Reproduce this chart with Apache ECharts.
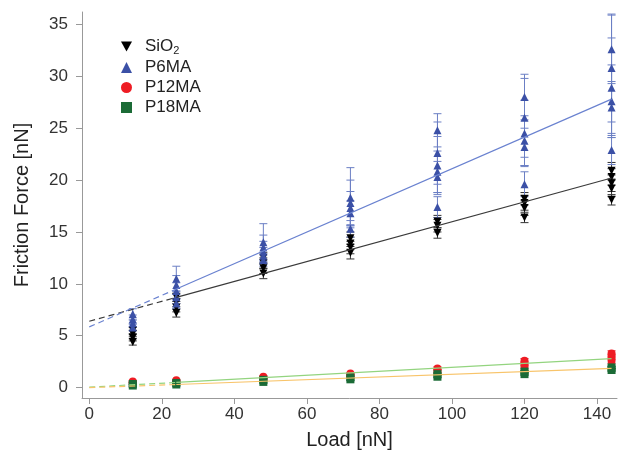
<!DOCTYPE html>
<html><head><meta charset="utf-8">
<script src="https://cdn.jsdelivr.net/npm/echarts@6/dist/echarts.min.js"></script>
<style>html,body{margin:0;padding:0;background:#fff}#c{width:620px;height:455px}</style>
</head><body><div id="c"></div>
<script>
const xTicks = [0, 20, 40, 60, 80, 100, 120, 140];
const yTicks = [0, 5, 10, 15, 20, 25, 30, 35];
const seriesNames = ['SiO2', 'P6MA', 'P12MA', 'P18MA'];

const sio2Load  = [12,12,12,12, 24,24,24,24, 48,48,48,48, 72,72,72,72, 96,96,96, 120,120,120,120, 144,144,144,144,144];
const sio2Force = [4.4,4.8,5.2,5.5, 7.2,7.7,8.2,8.7, 11.0,11.5,12.0,12.5, 13.0,13.5,13.9,14.4, 14.9,15.6,16.0, 16.4,17.3,17.8,18.2, 18.1,19.2,19.7,20.3,20.9];
const sio2Err   = [0.3,0.3,0.3,0.3, 0.4,0.4,0.4,0.4, 0.5,0.5,0.5,0.5, 0.6,0.6,0.6,0.6, 0.5,0.6,0.6, 0.5,0.7,0.7,0.6, 0.5,0.8,0.8,0.8,0.8];

const p6maLoad  = [12,12,12,12, 24,24,24,24,24, 48,48,48,48,48, 72,72,72,72,72, 96,96,96,96,96,96, 120,120,120,120,120,120, 144,144,144,144,144,144];
const p6maForce = [5.8,6.2,6.6,7.1, 8.1,8.7,9.3,9.9,10.5, 12.3,12.7,13.1,13.5,14.0, 15.3,16.8,17.3,17.8,18.3, 17.4,20.3,20.8,21.4,22.6,24.8, 19.6,23.2,23.8,24.5,26.0,28.0, 22.9,27.0,27.6,28.9,30.8,32.6];
const p6maErr   = [0.3,0.3,0.4,0.5, 0.5,0.6,0.8,0.9,1.2, 0.6,0.8,1.0,1.2,1.8, 0.8,1.2,1.6,2.2,2.9, 1.0,1.5,2.0,2.8,3.0,1.6, 1.2,1.8,2.4,3.2,3.8,2.2, 1.4,2.5,3.5,4.8,5.2,3.3];

const p12Load  = [12,12, 24,24, 48,48, 72,72, 96,96, 120,120,120, 144,144,144];
const p12Force = [0.45,0.6, 0.55,0.7, 0.9,1.05, 1.2,1.35, 1.6,1.85, 2.0,2.3,2.6, 2.6,2.95,3.3];
const p12Err   = [0.1,0.1, 0.1,0.1, 0.1,0.1, 0.1,0.1, 0.15,0.15, 0.2,0.2,0.2, 0.25,0.25,0.25];

const p18Load  = [12,12, 24,24, 48,48, 72,72, 96,96, 120,120, 144,144];
const p18Force = [0.2,0.35, 0.3,0.45, 0.55,0.75, 0.8,1.0, 1.05,1.3, 1.3,1.55, 1.7,1.95];
const p18Err   = [0.1,0.1, 0.1,0.1, 0.1,0.1, 0.1,0.1, 0.1,0.1, 0.1,0.1, 0.12,0.12];

const fitLoad  = [0, 24, 144];
const sio2Fit  = [6.4, 8.7, 20.2];
const p6maFit  = [5.85, 9.5, 27.8];
const p12Fit   = [0.05, 0.5, 2.8];
const p18Fit   = [0.0, 0.3, 1.85];

const FONT = '"Liberation Sans", Arial, Helvetica, sans-serif';
const DOWN_TRI = 'path://M0,0L10,0L5,9Z';

function pts(xs, ys) { return xs.map((x, i) => [x, ys[i]]); }
function errs(xs, ys, es) { return xs.map((x, i) => [x, ys[i] - es[i], ys[i] + es[i]]); }

function errRender(color, capHalf) {
  return function (params, api) {
    const x = api.value(0), lo = api.value(1), hi = api.value(2);
    const p1 = api.coord([x, lo]), p2 = api.coord([x, hi]);
    const style = { stroke: color, lineWidth: 1, fill: null };
    return { type: 'group', children: [
      { type: 'line', shape: { x1: p1[0], y1: p1[1], x2: p2[0], y2: p2[1] }, style },
      { type: 'line', shape: { x1: p1[0] - capHalf, y1: p1[1], x2: p1[0] + capHalf, y2: p1[1] }, style },
      { type: 'line', shape: { x1: p2[0] - capHalf, y1: p2[1], x2: p2[0] + capHalf, y2: p2[1] }, style }
    ]};
  };
}
function errSeries(xs, ys, es, color) {
  return { type: 'custom', silent: true, renderItem: errRender(color, 4),
    encode: { x: 0, y: [1, 2] }, data: errs(xs, ys, es), z: 2 };
}
function fitSeries(ys, color) {
  return [
    { type: 'line', silent: true, showSymbol: false, symbol: 'none', z: 4,
      data: [[fitLoad[0], ys[0]], [fitLoad[1], ys[1]]],
      lineStyle: { color, width: 1.2, type: [6, 4] } },
    { type: 'line', silent: true, showSymbol: false, symbol: 'none', z: 4,
      data: [[fitLoad[1], ys[1]], [fitLoad[2], ys[2]]],
      lineStyle: { color, width: 1.2, type: 'solid' } }
  ];
}

const chart = echarts.init(document.getElementById('c'), null, { renderer: 'canvas' });
chart.setOption({
  backgroundColor: '#fff',
  animation: false,
  grid: { left: 82, right: 3, top: 12, bottom: 57, containLabel: false },
  legend: {
    data: [
      { name: seriesNames[0], icon: DOWN_TRI },
      { name: seriesNames[1], icon: 'triangle' },
      { name: seriesNames[2], icon: 'circle' },
      { name: seriesNames[3], icon: 'rect' }
    ],
    orient: 'vertical', left: 116, top: 33,
    itemWidth: 11, itemHeight: 11, itemGap: 3,
    textStyle: { fontFamily: FONT, fontSize: 17, color: '#222', padding: [0, 0, 0, 8],
      rich: { sub: { fontFamily: FONT, fontSize: 11, color: '#222', verticalAlign: 'bottom', padding: [8, 0, 0, 0] } } },
    formatter: n => n === 'SiO2' ? 'SiO{sub|2}' : n
  },
  xAxis: {
    type: 'value', min: -2, max: 145.5,
    name: 'Load [nN]', nameLocation: 'middle', nameGap: 32,
    nameTextStyle: { fontFamily: FONT, fontSize: 20, color: '#222' },
    axisLine: { onZero: false, lineStyle: { color: '#999', width: 1 } },
    axisTick: { show: true, inside: false, length: 6, customValues: xTicks, lineStyle: { color: '#999' } },
    axisLabel: { customValues: xTicks, fontFamily: FONT, fontSize: 17, color: '#333', margin: 8 },
    splitLine: { show: false }
  },
  yAxis: {
    type: 'value', min: -1, max: 36.2,
    name: 'Friction Force [nN]', nameLocation: 'middle', nameGap: 50, nameRotate: 90,
    nameTextStyle: { fontFamily: FONT, fontSize: 20, color: '#222' },
    axisLine: { show: true, onZero: false, lineStyle: { color: '#999', width: 1 } },
    axisTick: { show: true, inside: false, length: 6, customValues: yTicks, lineStyle: { color: '#999' } },
    axisLabel: { customValues: yTicks, fontFamily: FONT, fontSize: 17, color: '#333', margin: 14 },
    splitLine: { show: false }
  },
  series: [
    errSeries(sio2Load, sio2Force, sio2Err, '#333'),
    errSeries(p6maLoad, p6maForce, p6maErr, '#6b7fc4'),
    errSeries(p12Load, p12Force, p12Err, '#e8282e'),
    errSeries(p18Load, p18Force, p18Err, '#1f6b38'),
    { name: 'SiO2', type: 'scatter', symbol: 'triangle', symbolRotate: 180, symbolSize: 8, z: 3,
      itemStyle: { color: '#000', opacity: 1 }, data: pts(sio2Load, sio2Force) },
    { name: 'P6MA', type: 'scatter', symbol: 'triangle', symbolSize: 8, z: 3,
      itemStyle: { color: '#3b50a6', opacity: 1 }, data: pts(p6maLoad, p6maForce) },
    { name: 'P12MA', type: 'scatter', symbol: 'circle', symbolSize: 8, z: 3,
      itemStyle: { color: '#ee1c24', opacity: 1 }, data: pts(p12Load, p12Force) },
    { name: 'P18MA', type: 'scatter', symbol: 'rect', symbolSize: 8, z: 3,
      itemStyle: { color: '#1b6b36', opacity: 1 }, data: pts(p18Load, p18Force) },
    ...fitSeries(sio2Fit, '#3a3a3a'),
    ...fitSeries(p6maFit, '#6a82d0'),
    ...fitSeries(p12Fit, '#93d47f'),
    ...fitSeries(p18Fit, '#f8c46a')
  ]
});
</script></body></html>
